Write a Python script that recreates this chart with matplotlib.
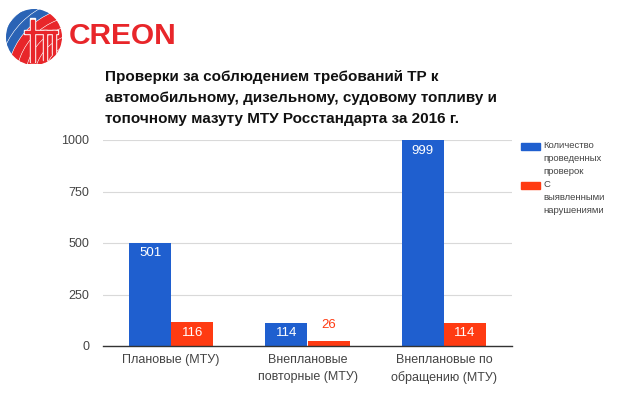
import matplotlib
matplotlib.use("Agg")
import matplotlib.pyplot as plt
from matplotlib.patches import Circle, Rectangle, Wedge
import numpy as np

plt.rcParams['font.family'] = ['Liberation Sans', 'DejaVu Sans']

categories = ["Плановые (МТУ)", "Внеплановые\nповторные (МТУ)", "Внеплановые по\nобращению (МТУ)"]
series_names = ["Количество\nпроведенных\nпроверок", "С\nвыявленными\nнарушениями"]
checks = [501, 114, 999]
violations = [116, 26, 114]
yticks = [0, 250, 500, 750, 1000]
title = ("Проверки за соблюдением требований ТР к\n"
         "автомобильному, дизельному, судовому топливу и\n"
         "топочному мазуту МТУ Росстандарта за 2016 г.")

BLUE = "#1f5fcf"
RED = "#ff3b12"
W, H = 622, 396
fig = plt.figure(figsize=(W/100, H/100), dpi=100)
fig.patch.set_facecolor("white")

# axes: x 103..512, y 140..346 (pixels from top)
ax = fig.add_axes([103/W, 1-346/H, (512-103)/W, (346-140)/H])
x = np.arange(len(categories))
bw = 0.31
b1 = ax.bar(x - bw/2, checks, bw, color=BLUE, label=series_names[0])
b2 = ax.bar(x + bw/2, violations, bw, color=RED, label=series_names[1])
ax.set_xlim(-0.5, 2.5)
ax.set_ylim(0, 1000)
ax.set_yticks(yticks)
ax.set_yticklabels([str(v) for v in yticks])
ax.set_xticks(x)
ax.set_xticklabels(categories, fontsize=9, color="#444444", linespacing=1.5)
ax.tick_params(axis='y', labelsize=9, labelcolor="#444444", length=0, pad=10)
ax.tick_params(axis='x', length=0, pad=6)
ax.grid(axis='y', color="#d9d9d9", linewidth=0.8)
ax.set_axisbelow(True)
for s in ["top", "right", "left"]:
    ax.spines[s].set_visible(False)
ax.spines["bottom"].set_color("#333333")
ax.spines["bottom"].set_linewidth(1.0)

def label(bars, vals):
    for r, v in zip(bars, vals):
        cx = r.get_x() + r.get_width()/2
        if v >= 60:
            ax.text(cx, v - 22, str(v), ha='center', va='top', color='white', fontsize=9.5)
        else:
            ax.text(cx, v + 45, str(v), ha='center', va='bottom', color=RED, fontsize=9.5)
label(b1, checks)
label(b2, violations)

# manual legend (handles aligned with first text line)
for (ytop, col, name) in [(143, BLUE, series_names[0]), (182, RED, series_names[1])]:
    fig.patches.append(Rectangle((521/W, 1-(ytop+7)/H), 19/W, 7/H,
                                 transform=fig.transFigure, color=col))
    fig.text(543/W, 1-(ytop-2)/H, name, ha='left', va='top', fontsize=6.8,
             color="#444444", linespacing=1.6)

fig.text(105/W, 1-70/H, title, ha='left', va='top', fontsize=11,
         fontweight='bold', color='#111111', linespacing=1.62)

# logo
lax = fig.add_axes([0, 1-64/H, 200/W, 64/H])
lax.set_xlim(0, 200)
lax.set_ylim(64, 0)
lax.axis('off')
circ = Circle((34, 37), 28, transform=lax.transData)
cx0, cy0 = 80, 80
for i, rad in enumerate(range(20, 110, 9)):
    col = "#e8262a" if rad < 68 else "#2a63b5"
    w = Wedge((cx0, cy0), rad + 7, 0, 360, width=7, color=col)
    lax.add_patch(w)
    w.set_clip_path(circ)
# building symbol (white frame with red)
for rect in [(30, 18, 5, 44), (24, 30, 34, 4), (43, 30, 4, 30), (52, 30, 4, 24)]:
    r = Rectangle(rect[:2], rect[2], rect[3], color="white")
    lax.add_patch(r)
    r.set_clip_path(circ)
for rect in [(31, 20, 3, 42), (25, 31, 32, 2), (44, 31, 2, 30), (53, 31, 2, 24)]:
    r = Rectangle(rect[:2], rect[2], rect[3], color="#e8262a")
    lax.add_patch(r)
    r.set_clip_path(circ)
lax.text(69, 36, "CREON", color="#e8262a", fontsize=21.5, fontweight='bold',
         va='center', ha='left')

fig.savefig("out.png", dpi=100, facecolor="white")
